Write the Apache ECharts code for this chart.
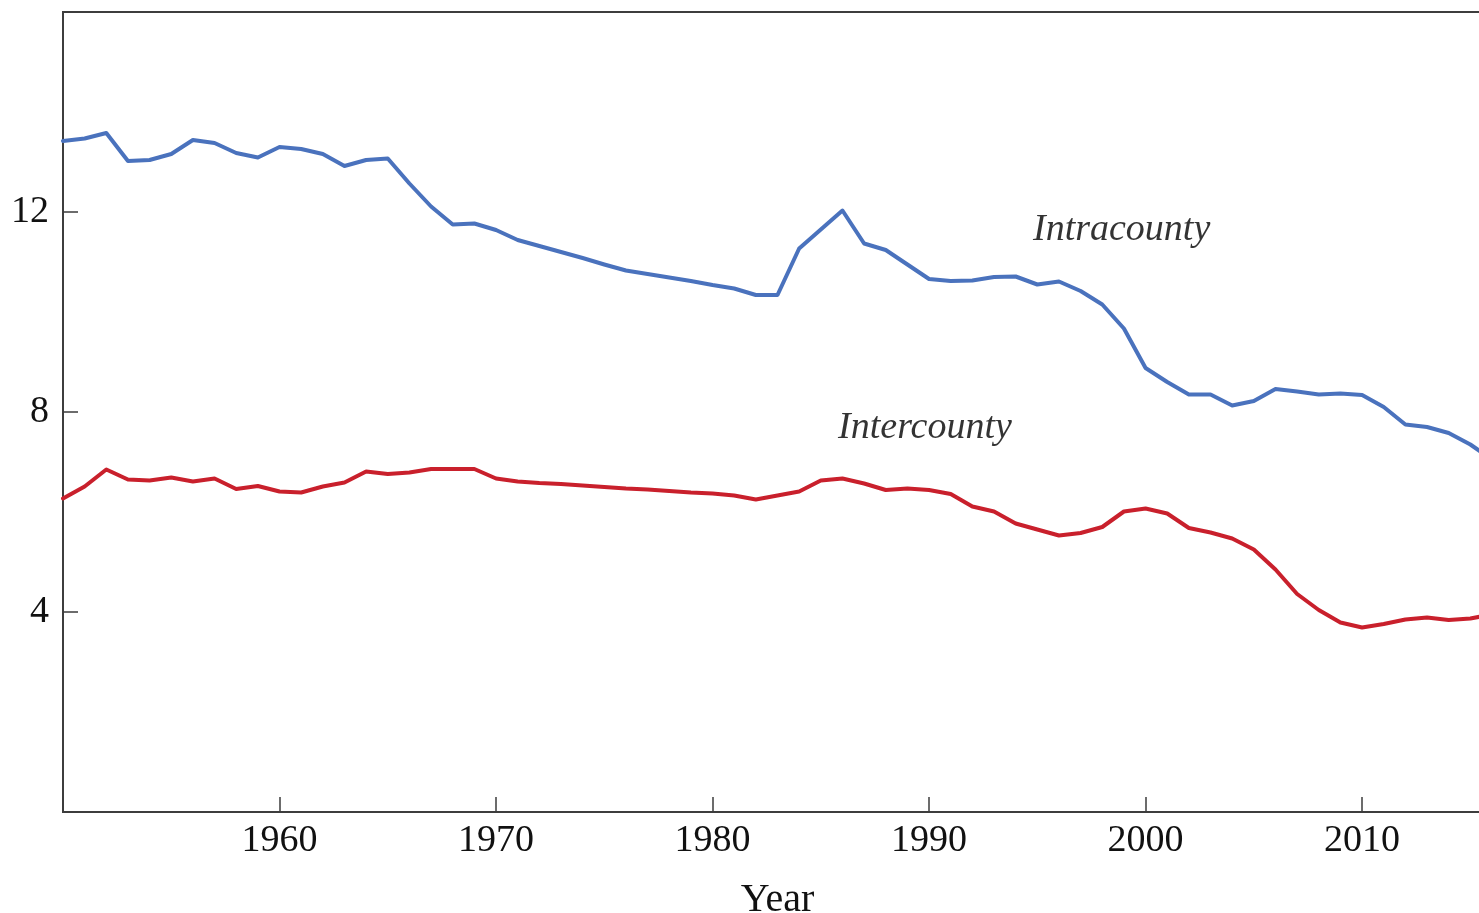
<!DOCTYPE html>
<html>
<head>
<meta charset="utf-8">
<script src="https://cdn.jsdelivr.net/npm/echarts@6/dist/echarts.min.js"></script>
<style>
html,body{margin:0;padding:0;background:#fff;}
#chart{width:1479px;height:913px;}
</style>
</head>
<body>
<div id="chart"></div>
<script>
const years = [1950,1951,1952,1953,1954,1955,1956,1957,1958,1959,1960,1961,1962,1963,1964,1965,1966,1967,1968,1969,1970,1971,1972,1973,1974,1975,1976,1977,1978,1979,1980,1981,1982,1983,1984,1985,1986,1987,1988,1989,1990,1991,1992,1993,1994,1995,1996,1997,1998,1999,2000,2001,2002,2003,2004,2005,2006,2007,2008,2009,2010,2011,2012,2013,2014,2015,2016];

const intracounty = [13.42,13.47,13.58,13.02,13.04,13.16,13.44,13.38,13.18,13.09,13.30,13.26,13.16,12.92,13.04,13.07,12.57,12.11,11.75,11.77,11.64,11.44,11.32,11.20,11.08,10.95,10.83,10.76,10.69,10.62,10.54,10.47,10.34,10.34,11.27,11.65,12.03,11.37,11.24,10.95,10.66,10.62,10.63,10.70,10.71,10.55,10.61,10.42,10.15,9.67,8.88,8.60,8.35,8.35,8.13,8.22,8.46,8.41,8.35,8.37,8.34,8.10,7.75,7.70,7.58,7.35,7.05];

const intercounty = [6.27,6.51,6.85,6.65,6.63,6.69,6.61,6.67,6.46,6.52,6.41,6.39,6.51,6.59,6.81,6.76,6.79,6.86,6.86,6.86,6.67,6.61,6.58,6.56,6.53,6.50,6.47,6.45,6.42,6.39,6.37,6.33,6.25,6.33,6.41,6.63,6.67,6.57,6.44,6.47,6.44,6.36,6.11,6.01,5.77,5.65,5.53,5.58,5.70,6.01,6.07,5.97,5.68,5.59,5.47,5.25,4.85,4.36,4.04,3.79,3.69,3.76,3.85,3.89,3.84,3.87,3.95];

const xTickLabels = [1960,1970,1980,1990,2000,2010];
const yTickLabels = [4,8,12];

const annotations = [
  {text:'Intracounty', year:1994.8, value:11.64},
  {text:'Intercounty', year:1985.8, value:7.68}
];

const font = '"Liberation Serif","Times New Roman",serif';
const axisColor = '#3d3d3d';

const chart = echarts.init(document.getElementById('chart'), null, {renderer:'canvas'});
chart.setOption({
  animation:false,
  backgroundColor:'#fff',
  grid:{left:63, top:12, right:-13, bottom:101, containLabel:false, outerBoundsMode:'none',
    show:true, borderColor:axisColor, borderWidth:2, backgroundColor:'transparent'},
  xAxis:{
    type:'value', min:1950, max:2016, interval:10,
    name:'Year', nameLocation:'middle', nameGap:68,
    nameTextStyle:{fontFamily:font, fontSize:40, color:'#111'},
    axisLine:{show:true, lineStyle:{color:axisColor, width:2}},
    axisTick:{show:true, inside:true, length:15, lineStyle:{color:axisColor, width:1.5}},
    axisLabel:{
      fontFamily:font, fontSize:38, color:'#111', margin:10,
      formatter:function(v){return xTickLabels.indexOf(Math.round(v))>=0 ? String(Math.round(v)) : '';}
    },
    splitLine:{show:false}
  },
  yAxis:{
    type:'value', min:0, max:16, interval:4,
    axisLine:{show:true, lineStyle:{color:axisColor, width:2}},
    axisTick:{show:true, inside:true, length:15, lineStyle:{color:axisColor, width:1.5}},
    axisLabel:{
      fontFamily:font, fontSize:38, color:'#111', margin:14,
      formatter:function(v){return yTickLabels.indexOf(v)>=0 ? String(v) : '';}
    },
    splitLine:{show:false}
  },
  series:[
    {
      name:'Intracounty', type:'line', showSymbol:false, symbol:'none',
      data:years.map((y,i)=>[y,intracounty[i]]),
      lineStyle:{color:'#4a72bd', width:4, join:'round', cap:'round'},
      itemStyle:{color:'#4a72bd'}
    },
    {
      name:'Intercounty', type:'line', showSymbol:false, symbol:'none',
      data:years.map((y,i)=>[y,intercounty[i]]),
      lineStyle:{color:'#c9202c', width:4, join:'round', cap:'round'},
      itemStyle:{color:'#c9202c'}
    },
    {
      name:'labels', type:'scatter', symbolSize:0, silent:true,
      data:annotations.map(a=>({value:[a.year,a.value], name:a.text})),
      label:{show:true, position:'inside', align:'left', verticalAlign:'middle',
        formatter:function(p){return p.name;},
        fontFamily:font, fontStyle:'italic', fontSize:38, color:'#000'}
    }
  ]
});
</script>
</body>
</html>
